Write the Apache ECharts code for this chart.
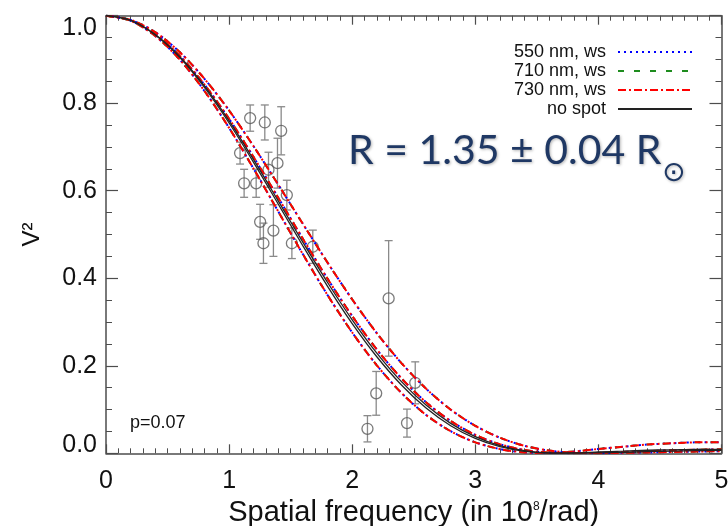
<!DOCTYPE html>
<html><head><meta charset="utf-8">
<script src="https://cdn.jsdelivr.net/npm/echarts@6/dist/echarts.min.js"></script>
<style>html,body{margin:0;padding:0;background:#fff}#c{width:728px;height:526px}</style>
</head><body><div id="c"></div>
<script>
// model curves sampled at xs (spatial frequency, 1e8/rad)
var xs = [0,0.2,0.4,0.6,0.8,1.0,1.2,1.4,1.6,1.8,2.0,2.2,2.4,2.6,2.8,3.0,3.2,3.4,3.6,3.8,4.0,4.2,4.4,4.6,4.8,5.0];
var curveLow  = [1,0.9885,0.9535,0.8994,0.828,0.7436,0.6499,0.5522,0.4547,0.3615,0.2761,0.201,0.138,0.0877,0.0505,0.0251,0.0097,0.0021,0.0005,0.004,0.010,0.015,0.020,0.023,0.025,0.025];
var curveMid  = [1,0.9897,0.9581,0.9087,0.8427,0.7644,0.6764,0.5836,0.4899,0.3988,0.3137,0.2373,0.1712,0.1167,0.0738,0.0421,0.0206,0.0076,0.0016,0.0003,0.001,0.003,0.005,0.007,0.008,0.009];
var curveHigh = [1,0.9905,0.9625,0.9165,0.8558,0.7833,0.7012,0.6135,0.524,0.4357,0.3517,0.2746,0.2062,0.1478,0.0999,0.0628,0.0355,0.0171,0.0062,0.0012,0.0002,0.001,0.002,0.003,0.004,0.005];
var noSpotA   = [1,0.9895,0.9571,0.9065,0.8394,0.7597,0.6704,0.5764,0.4819,0.3903,0.3051,0.229,0.1637,0.1101,0.0684,0.0381,0.0178,0.0061,0.001,0.0003,0.001,0.002,0.004,0.005,0.006,0.007];
var noSpotB   = [1,0.9891,0.956,0.9044,0.836,0.7548,0.6643,0.5691,0.4738,0.3816,0.2964,0.2206,0.156,0.1034,0.063,0.0339,0.015,0.0045,0.0005,0.0008,0.003,0.005,0.007,0.008,0.009,0.009];
// observations
var obsX   = [1.171,1.29,1.423,1.089,1.122,1.22,1.32,1.393,1.469,1.252,1.279,1.36,1.51,1.68,2.296,2.512,2.195,2.124,2.445];
var obsV2  = [0.766,0.756,0.737,0.686,0.617,0.617,0.648,0.663,0.590,0.529,0.480,0.509,0.480,0.472,0.354,0.161,0.137,0.056,0.069];
var obsErr = [0.03,0.04,0.055,0.025,0.032,0.032,0.04,0.057,0.034,0.04,0.046,0.059,0.035,0.038,0.132,0.048,0.05,0.03,0.032];
var xTicks = [0,1,2,3,4,5];
var yTicks = [0,0.2,0.4,0.6,0.8,1.0];
var seriesNames = ['550 nm, ws','710 nm, ws','730 nm, ws','no spot'];

function pairs(ys){ return xs.map(function(x,i){return [x, ys[i]];}); }

var chart = echarts.init(document.getElementById('c'));
var axisCol = '#4d4d4d';
var F = 'Liberation Sans, Arial, sans-serif';

function mkX(pos, show){
  return {type:'value', position:pos, min:xTicks[0], max:xTicks[xTicks.length-1], interval:1,
    axisLine:{show:true, onZero:false, lineStyle:{color:axisCol,width:1.5}},
    axisTick:{show:true, inside:true, length:9, lineStyle:{color:axisCol,width:1.2}},
    minorTick:{show:true, splitNumber:10, length:5, lineStyle:{color:axisCol,width:1}},
    splitLine:{show:false},
    axisLabel:{show:show, color:'#111', fontFamily:F, fontSize:25, margin:15},
    name: show ? '{a|Spatial frequency (in 10}{s|8}{a|/rad)}' : '',
    nameLocation:'middle', nameGap:45,
    nameTextStyle:{rich:{a:{fontFamily:F,fontSize:29,color:'#111'}, s:{fontFamily:F,fontSize:12,color:'#111',padding:[0,0,12,0]}}}
  };
}
function mkY(pos, show){
  return {type:'value', position:pos, min:yTicks[0], max:yTicks[yTicks.length-1], interval:0.2,
    axisLine:{show:true, onZero:false, lineStyle:{color:axisCol,width:1.5}},
    axisTick:{show:true, inside:true, length:12, lineStyle:{color:axisCol,width:1.2}},
    minorTick:{show:true, splitNumber:4, length:6, lineStyle:{color:axisCol,width:1}},
    splitLine:{show:false},
    axisLabel:{show:show, margin:9,
      formatter:function(v){
        var s = v.toFixed(1);
        if (Math.abs(v-1)<1e-9) return '{t|'+s+'}';
        if (Math.abs(v)<1e-9) return '{b|'+s+'}';
        return '{n|'+s+'}';
      },
      rich:{
        n:{fontFamily:F,fontSize:25,color:'#111'},
        t:{fontFamily:F,fontSize:25,color:'#111',padding:[24,0,0,0]},
        b:{fontFamily:F,fontSize:25,color:'#111',padding:[0,0,17,0]}
      }},
    name: show ? 'V\u00b2' : '', nameLocation:'middle', nameGap:62, nameRotate:90,
    nameTextStyle:{fontFamily:F,fontSize:24,color:'#111'}
  };
}

var series = [];
series.push({type:'custom', name:'err', xAxisIndex:0, yAxisIndex:0, silent:true, z:2,
  data: obsX.map(function(x,i){return [x, obsV2[i], obsErr[i]];}),
  renderItem:function(params, api){
    var x=api.value(0), y=api.value(1), e=api.value(2);
    var hi=api.coord([x,y+e]), lo=api.coord([x,y-e]);
    var w=4;
    var st={stroke:'#8a8a8a', lineWidth:1.3};
    return {type:'group', children:[
      {type:'line', shape:{x1:hi[0],y1:hi[1],x2:lo[0],y2:lo[1]}, style:st},
      {type:'line', shape:{x1:hi[0]-w,y1:hi[1],x2:hi[0]+w,y2:hi[1]}, style:st},
      {type:'line', shape:{x1:lo[0]-w,y1:lo[1],x2:lo[0]+w,y2:lo[1]}, style:st}
    ]};
  }
});
series.push({type:'scatter', name:'obs', xAxisIndex:0, yAxisIndex:0, z:3,
  data: obsX.map(function(x,i){return [x, obsV2[i]];}),
  symbol:'circle', symbolSize:11,
  itemStyle:{color:'rgba(255,255,255,0)', borderColor:'#5a5a5a', borderWidth:1.3}
});

var styles = [
  {name:seriesNames[0], color:'#0000ff', type:[2,4], width:2},
  {name:seriesNames[1], color:'#1e8c1e', type:[6,10], width:2},
  {name:seriesNames[2], color:'#ff0000', type:[8,3,2,3], width:2}
];
[curveLow, curveMid, curveHigh].forEach(function(c){
  styles.forEach(function(s){
    series.push({type:'line', name:s.name, xAxisIndex:0, yAxisIndex:0, data:pairs(c), smooth:0.3,
      symbol:'none', z:4, color:s.color, lineStyle:{color:s.color, width:s.width, type:s.type}});
  });
});
[noSpotA, noSpotB].forEach(function(c){
  series.push({type:'line', name:seriesNames[3], xAxisIndex:0, yAxisIndex:0, data:pairs(c), smooth:0.3,
    symbol:'none', z:5, color:'#222', lineStyle:{color:'#222', width:1.3, type:'solid'}});
});

chart.setOption({
  animation:false,
  backgroundColor:'#fff',
  grid:{left:106, right:6.5, top:15.7, bottom:72.7, containLabel:false, outerBoundsMode:'none'},
  xAxis:[mkX('bottom', true), mkX('top', false)],
  yAxis:[mkY('left', true), mkY('right', false)],
  legend:{data:seriesNames, orient:'vertical', align:'right', right:30, top:38,
    itemWidth:74, itemHeight:12, itemGap:1,
    itemStyle:{opacity:0, borderWidth:0},
    textStyle:{fontFamily:F, fontSize:18, color:'#111', lineHeight:18, padding:[0,7,0,0]}},
  graphic:[
    {type:'text', left:348, top:130, z:10, style:{text:'R = 1.35 \u00b1 0.04 R', fontFamily:'Lato, sans-serif', fontSize:41, fill:'#1F3864',
      textShadowColor:'rgba(0,0,0,0.3)', textShadowBlur:3, textShadowOffsetX:1, textShadowOffsetY:1}},
    {type:'text', left:662, top:160, z:10, style:{text:'\u2299', fontFamily:'DejaVu Sans', fontSize:28, fill:'#1F3864',
      textShadowColor:'rgba(0,0,0,0.3)', textShadowBlur:3, textShadowOffsetX:1, textShadowOffsetY:1}},
    {type:'text', left:130, top:414, z:10, style:{text:'p=0.07', fontFamily:F, fontSize:18, fill:'#111'}}
  ],
  series:series
});
</script></body></html>
